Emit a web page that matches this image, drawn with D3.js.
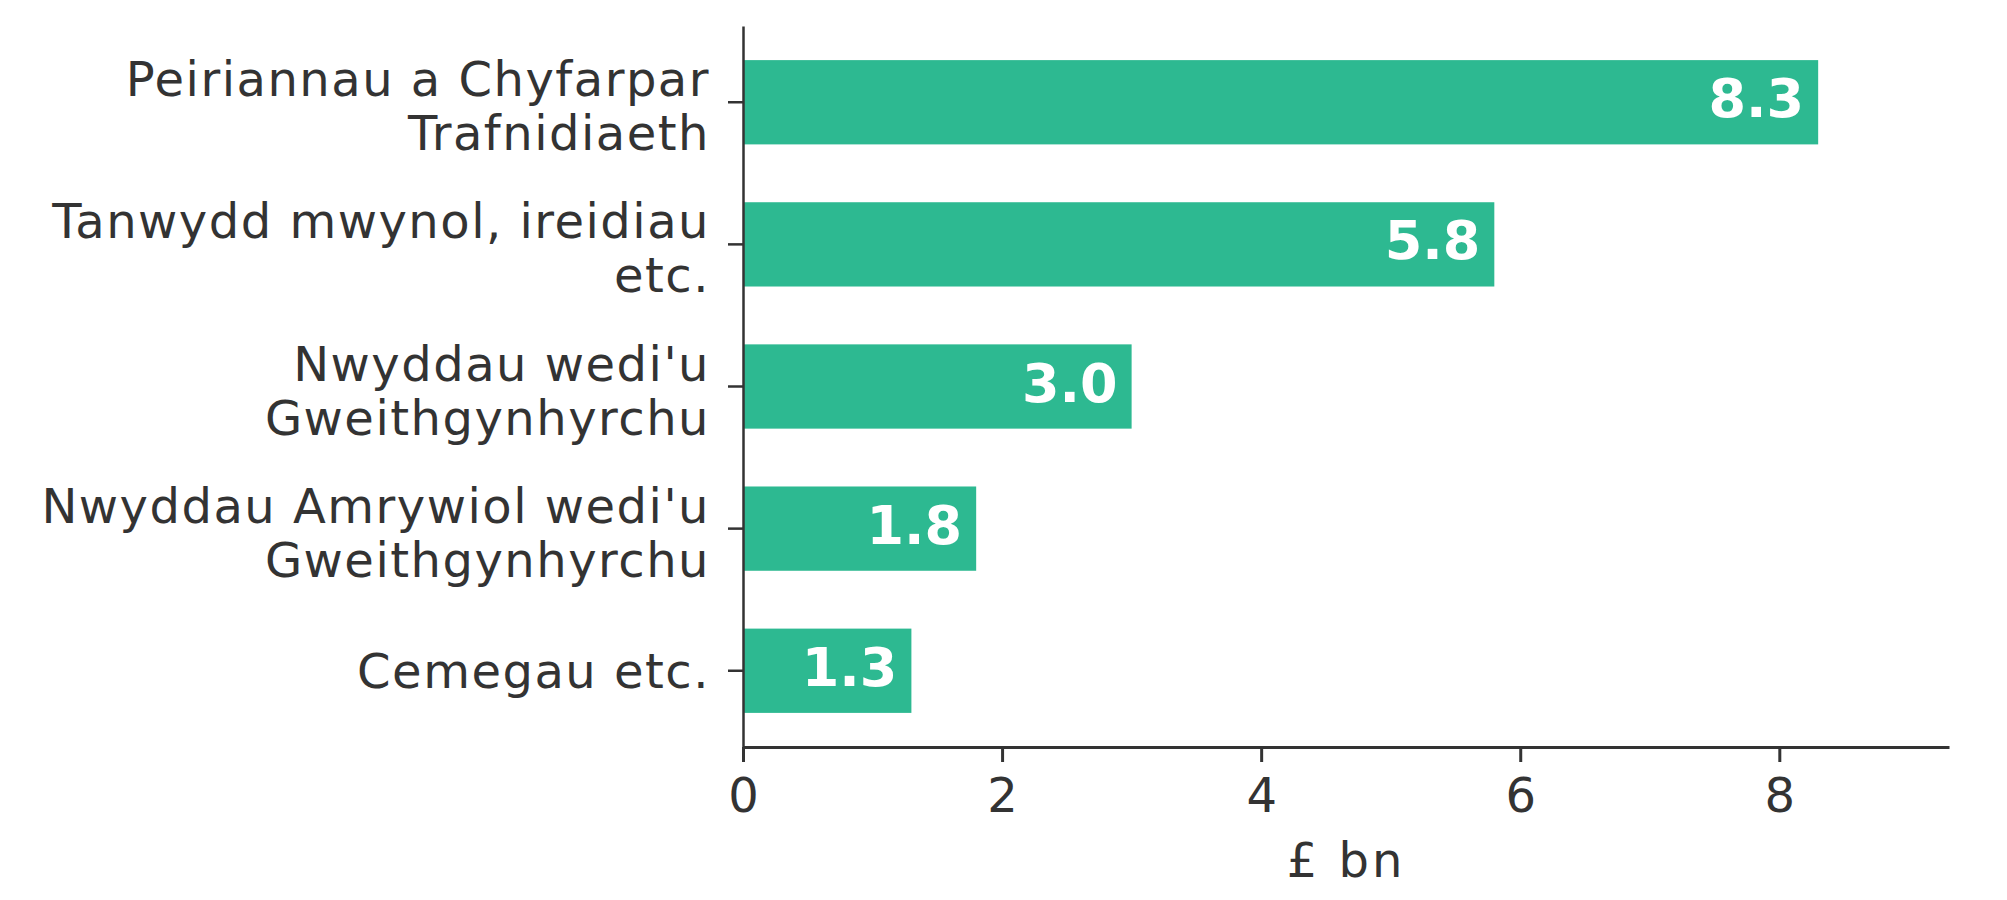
<!DOCTYPE html>
<html>
<head>
<meta charset="utf-8">
<script src="https://cdn.jsdelivr.net/npm/d3@7"></script>
<style>
  body { margin: 0; background: #fff; }
  text { font-family: "DejaVu Sans", sans-serif; fill: #333; }
</style>
</head>
<body>
<div id="chart"></div>
<script>
var categories = [
  "Peiriannau a Chyfarpar\nTrafnidiaeth",
  "Tanwydd mwynol, ireidiau\netc.",
  "Nwyddau wedi'u\nGweithgynhyrchu",
  "Nwyddau Amrywiol wedi'u\nGweithgynhyrchu",
  "Cemegau etc."
];
var values = [8.3, 5.8, 3.0, 1.8, 1.3];
var xTicks = [0, 2, 4, 6, 8];
var xMax = 9.31;
var axisTitle = "£ bn";

var width = 2007;
var height = 900;
var margin = { top: 26, right: 58, bottom: 153, left: 743 };

var svg = d3.select("#chart")
  .append("svg")
  .attr("width", width)
  .attr("height", height);

var x = d3.scaleLinear()
  .domain([0, xMax])
  .range([margin.left, width - margin.right]);

var y = d3.scaleBand()
  .domain(categories)
  .range([margin.top, height - margin.bottom])
  .paddingInner(0.407)
  .paddingOuter(0.24);

// bars
svg.selectAll("rect.bar")
  .data(values)
  .enter()
  .append("rect")
  .attr("class", "bar")
  .attr("x", x(0))
  .attr("y", (d, i) => y(categories[i]))
  .attr("width", (d) => x(d) - x(0))
  .attr("height", y.bandwidth())
  .attr("fill", "#2db991");

// value labels
svg.selectAll("text.val")
  .data(values)
  .enter()
  .append("text")
  .attr("class", "val")
  .attr("x", (d) => x(d) - 14)
  .attr("y", (d, i) => y(categories[i]) + y.bandwidth() / 2 + 15)
  .attr("text-anchor", "end")
  .attr("font-size", "54px")
  .attr("font-weight", "bold")
  .style("fill", "#fff")
  .text((d) => d.toFixed(1));

// x axis
var xAxis = svg.append("g")
  .attr("transform", "translate(0," + (height - margin.bottom) + ")")
  .call(d3.axisBottom(x).tickValues(xTicks).tickSize(15).tickPadding(16).tickSizeOuter(0));
xAxis.select(".domain").attr("stroke", "#333").attr("stroke-width", 3);
xAxis.selectAll(".tick line").attr("stroke", "#333").attr("stroke-width", 3);
xAxis.selectAll(".tick text")
  .attr("font-size", "48px")
  .attr("font-family", null)
  .attr("fill", null);

// y axis
var yAxis = svg.append("g")
  .attr("transform", "translate(" + margin.left + ",0)")
  .call(d3.axisLeft(y).tickSize(15).tickSizeOuter(0).tickFormat(""));
yAxis.select(".domain").attr("stroke", "#333").attr("stroke-width", 2.5);
yAxis.selectAll(".tick line").attr("stroke", "#333").attr("stroke-width", 2.5);

yAxis.selectAll(".tick").each(function (d) {
  var lines = d.split("\n");
  var t = d3.select(this).append("text")
    .attr("text-anchor", "end")
    .attr("font-size", "48px")
    .attr("letter-spacing", "1.5px");
  lines.forEach(function (ln, i) {
    var dy = lines.length === 1 ? 17 : (i === 0 ? -6 : 48);
    t.append("tspan")
      .attr("x", -33)
      .attr("y", dy)
      .text(ln);
  });
});

// axis title
svg.append("text")
  .attr("x", (x(0) + x(xMax)) / 2)
  .attr("y", 877)
  .attr("text-anchor", "middle")
  .attr("font-size", "48px")
  .attr("letter-spacing", "3px")
  .text(axisTitle);
</script>
</body>
</html>
